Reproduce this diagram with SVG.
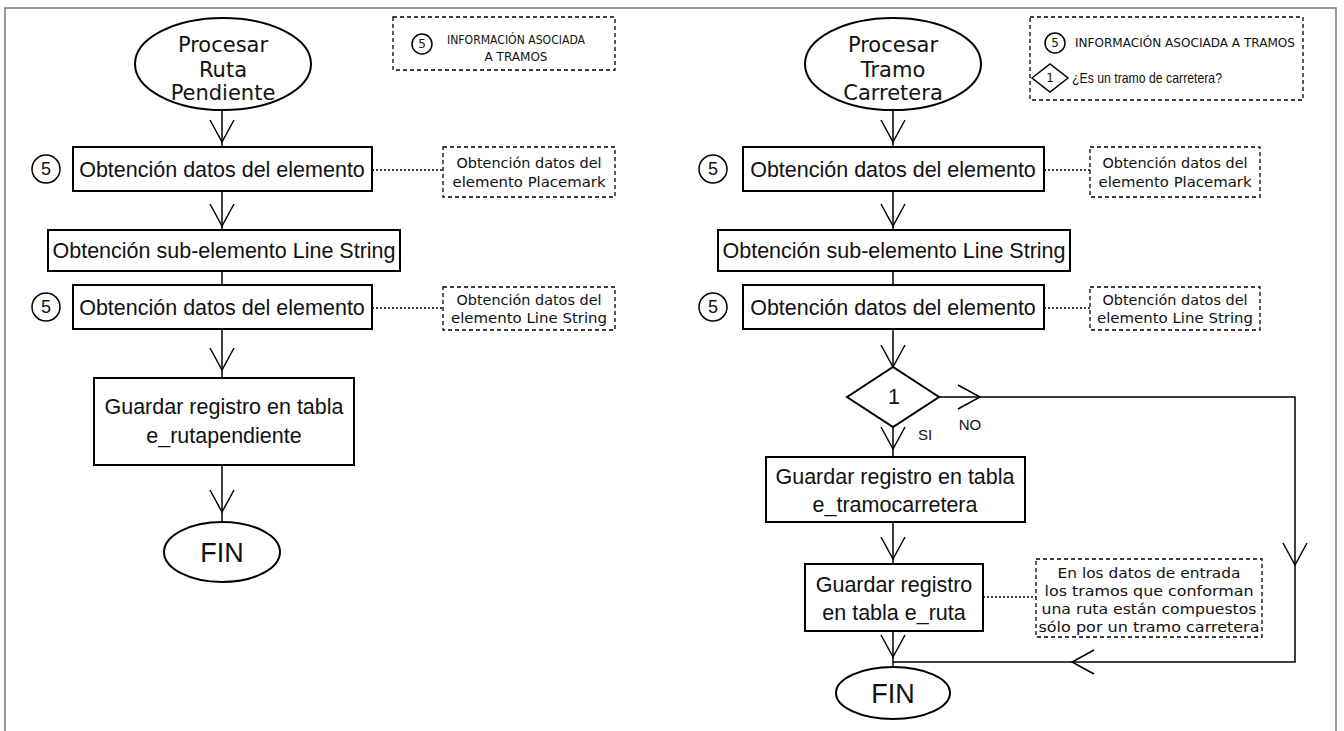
<svg xmlns="http://www.w3.org/2000/svg" xmlns:xlink="http://www.w3.org/1999/xlink" width="1344" height="731" viewBox="0 0 1344 731">
<style>
  .frame{fill:none;stroke:#7a7a7a;stroke-width:1.5}
  .box{fill:#fff;stroke:#000;stroke-width:2}
  .term{fill:#fff;stroke:#000;stroke-width:2}
  .ref{fill:#fff;stroke:#000;stroke-width:1.5}
  .note{fill:#fff;stroke:#000;stroke-width:1.3;stroke-dasharray:4 3}
  .dot{fill:none;stroke:#000;stroke-width:1.3;stroke-dasharray:2 2}
  .edge{fill:none;stroke:#000;stroke-width:1.5}
  .head{fill:none;stroke:#000;stroke-width:1.5}
  text{fill:#111;text-anchor:middle}
  .t{font-family:"Liberation Sans",Arial,sans-serif;font-size:21.5px}
  .tl{font-family:"DejaVu Sans",Verdana,sans-serif;font-size:21px}
  .tf{font-family:"Liberation Sans",Arial,sans-serif;font-size:27px}
  .tn{font-family:"DejaVu Sans",Verdana,sans-serif;font-size:14px}
  .tg{font-family:"DejaVu Sans",Verdana,sans-serif;font-size:12px}
  .tq{font-family:"Liberation Sans",Arial,sans-serif;font-size:15px}
  .tc{font-family:"Liberation Sans",Arial,sans-serif;font-size:18px}
</style>
<defs>
  <!-- open chevron arrowhead, tip at origin, pointing down -->
  <path id="v" class="head" d="M-12,-22 L0,0 L12,-22"/>
</defs>

<!-- page frame -->
<path class="frame" d="M5,731 V8 H1336 V731"/>

<!-- connectors -->
<g id="connectors">
  <!-- left flow -->
  <line class="edge" x1="222" y1="110" x2="222" y2="146"/>
  <use xlink:href="#v" transform="translate(222,142)"/>
  <line class="edge" x1="222" y1="191" x2="222" y2="230"/>
  <use xlink:href="#v" transform="translate(222,226)"/>
  <line class="edge" x1="222" y1="271" x2="222" y2="285"/>
  <line class="edge" x1="222" y1="329" x2="222" y2="378"/>
  <use xlink:href="#v" transform="translate(222,370)"/>
  <line class="edge" x1="222" y1="465" x2="222" y2="522"/>
  <use xlink:href="#v" transform="translate(222,512)"/>
  <line class="dot" x1="372" y1="170" x2="443" y2="170"/>
  <line class="dot" x1="372" y1="308" x2="443" y2="308"/>

  <!-- right flow -->
  <line class="edge" x1="893" y1="110" x2="893" y2="146"/>
  <use xlink:href="#v" transform="translate(893,142)"/>
  <line class="edge" x1="893" y1="191" x2="893" y2="230"/>
  <use xlink:href="#v" transform="translate(893,226)"/>
  <line class="edge" x1="893" y1="271" x2="893" y2="285"/>
  <line class="edge" x1="893" y1="329" x2="893" y2="367"/>
  <use xlink:href="#v" transform="translate(893,367)"/>
  <line class="edge" x1="893" y1="426" x2="893" y2="457"/>
  <use xlink:href="#v" transform="translate(893,449)"/>
  <line class="edge" x1="893" y1="522" x2="893" y2="564"/>
  <use xlink:href="#v" transform="translate(893,559)"/>
  <line class="edge" x1="893" y1="631" x2="893" y2="667"/>
  <use xlink:href="#v" transform="translate(893,657)"/>
  <path class="edge" d="M939,397 H1295 V662 H893"/>
  <use xlink:href="#v" transform="translate(980,397) rotate(-90)"/>
  <use xlink:href="#v" transform="translate(1295,565)"/>
  <use xlink:href="#v" transform="translate(1072,662) rotate(90)"/>
  <line class="dot" x1="1044" y1="170" x2="1090" y2="170"/>
  <line class="dot" x1="1044" y1="308" x2="1090" y2="308"/>
  <line class="dot" x1="983" y1="597" x2="1036" y2="597"/>
  <text class="tq" x="970" y="430">NO</text>
  <text class="tq" x="925" y="440">SI</text>
</g>

<!-- left: Procesar Ruta Pendiente -->
<g id="l-start">
  <ellipse class="term" cx="223" cy="64" rx="88" ry="46"/>
  <text class="tl" x="223" y="52">Procesar</text>
  <text class="tl" x="223" y="77">Ruta</text>
  <text class="tl" x="223" y="100">Pendiente</text>
</g>
<g id="l-legend">
  <rect class="note" x="393" y="17" width="222" height="53"/>
  <circle class="ref" cx="422" cy="44" r="10"/>
  <text class="tg" x="422" y="48">5</text>
  <text class="tg" x="516" y="44" textLength="138" lengthAdjust="spacingAndGlyphs">INFORMACIÓN ASOCIADA</text>
  <text class="tg" x="516" y="61" textLength="63" lengthAdjust="spacingAndGlyphs">A TRAMOS</text>
</g>
<g id="l-ref1">
  <circle class="ref" cx="46" cy="169" r="14"/>
  <text class="tc" x="46" y="175">5</text>
</g>
<g id="l-data1">
  <rect class="box" x="73" y="147" width="299" height="44"/>
  <text class="t" x="222" y="177">Obtención datos del elemento</text>
</g>
<g id="l-note1">
  <rect class="note" x="443" y="147" width="172" height="50"/>
  <text class="tn" x="529" y="168" textLength="145" lengthAdjust="spacingAndGlyphs">Obtención datos del</text>
  <text class="tn" x="529" y="187" textLength="153" lengthAdjust="spacingAndGlyphs">elemento Placemark</text>
</g>
<g id="l-sub">
  <rect class="box" x="48" y="230" width="352" height="41"/>
  <text class="t" x="224" y="258">Obtención sub-elemento Line String</text>
</g>
<g id="l-ref2">
  <circle class="ref" cx="46" cy="307" r="14"/>
  <text class="tc" x="46" y="313">5</text>
</g>
<g id="l-data2">
  <rect class="box" x="73" y="285" width="299" height="44"/>
  <text class="t" x="222" y="315">Obtención datos del elemento</text>
</g>
<g id="l-note2">
  <rect class="note" x="443" y="287" width="172" height="43"/>
  <text class="tn" x="529" y="305" textLength="145" lengthAdjust="spacingAndGlyphs">Obtención datos del</text>
  <text class="tn" x="529" y="323" textLength="156" lengthAdjust="spacingAndGlyphs">elemento Line String</text>
</g>
<g id="l-save">
  <rect class="box" x="94" y="378" width="260" height="87"/>
  <text class="t" x="224" y="414">Guardar registro en tabla</text>
  <text class="t" x="224" y="443">e_rutapendiente</text>
</g>
<g id="l-end">
  <ellipse class="term" cx="222" cy="552" rx="58" ry="30"/>
  <text class="tf" x="222" y="562">FIN</text>
</g>

<!-- right: Procesar Tramo Carretera -->
<g id="r-start">
  <ellipse class="term" cx="893" cy="64" rx="88" ry="46"/>
  <text class="tl" x="893" y="52">Procesar</text>
  <text class="tl" x="893" y="77">Tramo</text>
  <text class="tl" x="893" y="100">Carretera</text>
</g>
<g id="r-legend">
  <rect class="note" x="1030" y="17" width="273" height="83"/>
  <circle class="ref" cx="1055" cy="43" r="10"/>
  <text class="tg" x="1055" y="47">5</text>
  <text class="tg" x="1185" y="47" textLength="220" lengthAdjust="spacingAndGlyphs">INFORMACIÓN ASOCIADA A TRAMOS</text>
  <path class="ref" d="M1032,78 L1050,64 L1068,78 L1050,92 Z"/>
  <text class="tg" x="1050" y="82">1</text>
  <text class="tq" x="1147" y="83" textLength="150" lengthAdjust="spacingAndGlyphs">¿Es un tramo de carretera?</text>
</g>
<g id="r-ref1">
  <circle class="ref" cx="713" cy="169" r="14"/>
  <text class="tc" x="713" y="175">5</text>
</g>
<g id="r-data1">
  <rect class="box" x="743" y="147" width="301" height="44"/>
  <text class="t" x="893" y="177">Obtención datos del elemento</text>
</g>
<g id="r-note1">
  <rect class="note" x="1090" y="147" width="170" height="50"/>
  <text class="tn" x="1175" y="168" textLength="145" lengthAdjust="spacingAndGlyphs">Obtención datos del</text>
  <text class="tn" x="1175" y="187" textLength="153" lengthAdjust="spacingAndGlyphs">elemento Placemark</text>
</g>
<g id="r-sub">
  <rect class="box" x="718" y="230" width="352" height="41"/>
  <text class="t" x="894" y="258">Obtención sub-elemento Line String</text>
</g>
<g id="r-ref2">
  <circle class="ref" cx="713" cy="307" r="14"/>
  <text class="tc" x="713" y="313">5</text>
</g>
<g id="r-data2">
  <rect class="box" x="743" y="285" width="301" height="44"/>
  <text class="t" x="893" y="315">Obtención datos del elemento</text>
</g>
<g id="r-note2">
  <rect class="note" x="1090" y="287" width="170" height="43"/>
  <text class="tn" x="1175" y="305" textLength="145" lengthAdjust="spacingAndGlyphs">Obtención datos del</text>
  <text class="tn" x="1175" y="323" textLength="156" lengthAdjust="spacingAndGlyphs">elemento Line String</text>
</g>
<g id="r-decision">
  <path class="box" d="M847,397 L893,367 L939,397 L893,427 Z"/>
  <text class="t" x="894" y="404">1</text>
</g>
<g id="r-save-tramo">
  <rect class="box" x="766" y="457" width="259" height="65"/>
  <text class="t" x="895" y="484">Guardar registro en tabla</text>
  <text class="t" x="895" y="512">e_tramocarretera</text>
</g>
<g id="r-save-ruta">
  <rect class="box" x="805" y="564" width="178" height="67"/>
  <text class="t" x="894" y="592">Guardar registro</text>
  <text class="t" x="894" y="620">en tabla e_ruta</text>
</g>
<g id="r-note3">
  <rect class="note" x="1036" y="559" width="226" height="78"/>
  <text class="tn" x="1149" y="578" textLength="183" lengthAdjust="spacingAndGlyphs">En los datos de entrada</text>
  <text class="tn" x="1149" y="596" textLength="209" lengthAdjust="spacingAndGlyphs">los tramos que conforman</text>
  <text class="tn" x="1149" y="614" textLength="215" lengthAdjust="spacingAndGlyphs">una ruta están compuestos</text>
  <text class="tn" x="1149" y="632" textLength="221" lengthAdjust="spacingAndGlyphs">sólo por un tramo carretera</text>
</g>
<g id="r-end">
  <ellipse class="term" cx="893" cy="693" rx="57" ry="26"/>
  <text class="tf" x="893" y="703">FIN</text>
</g>
</svg>
